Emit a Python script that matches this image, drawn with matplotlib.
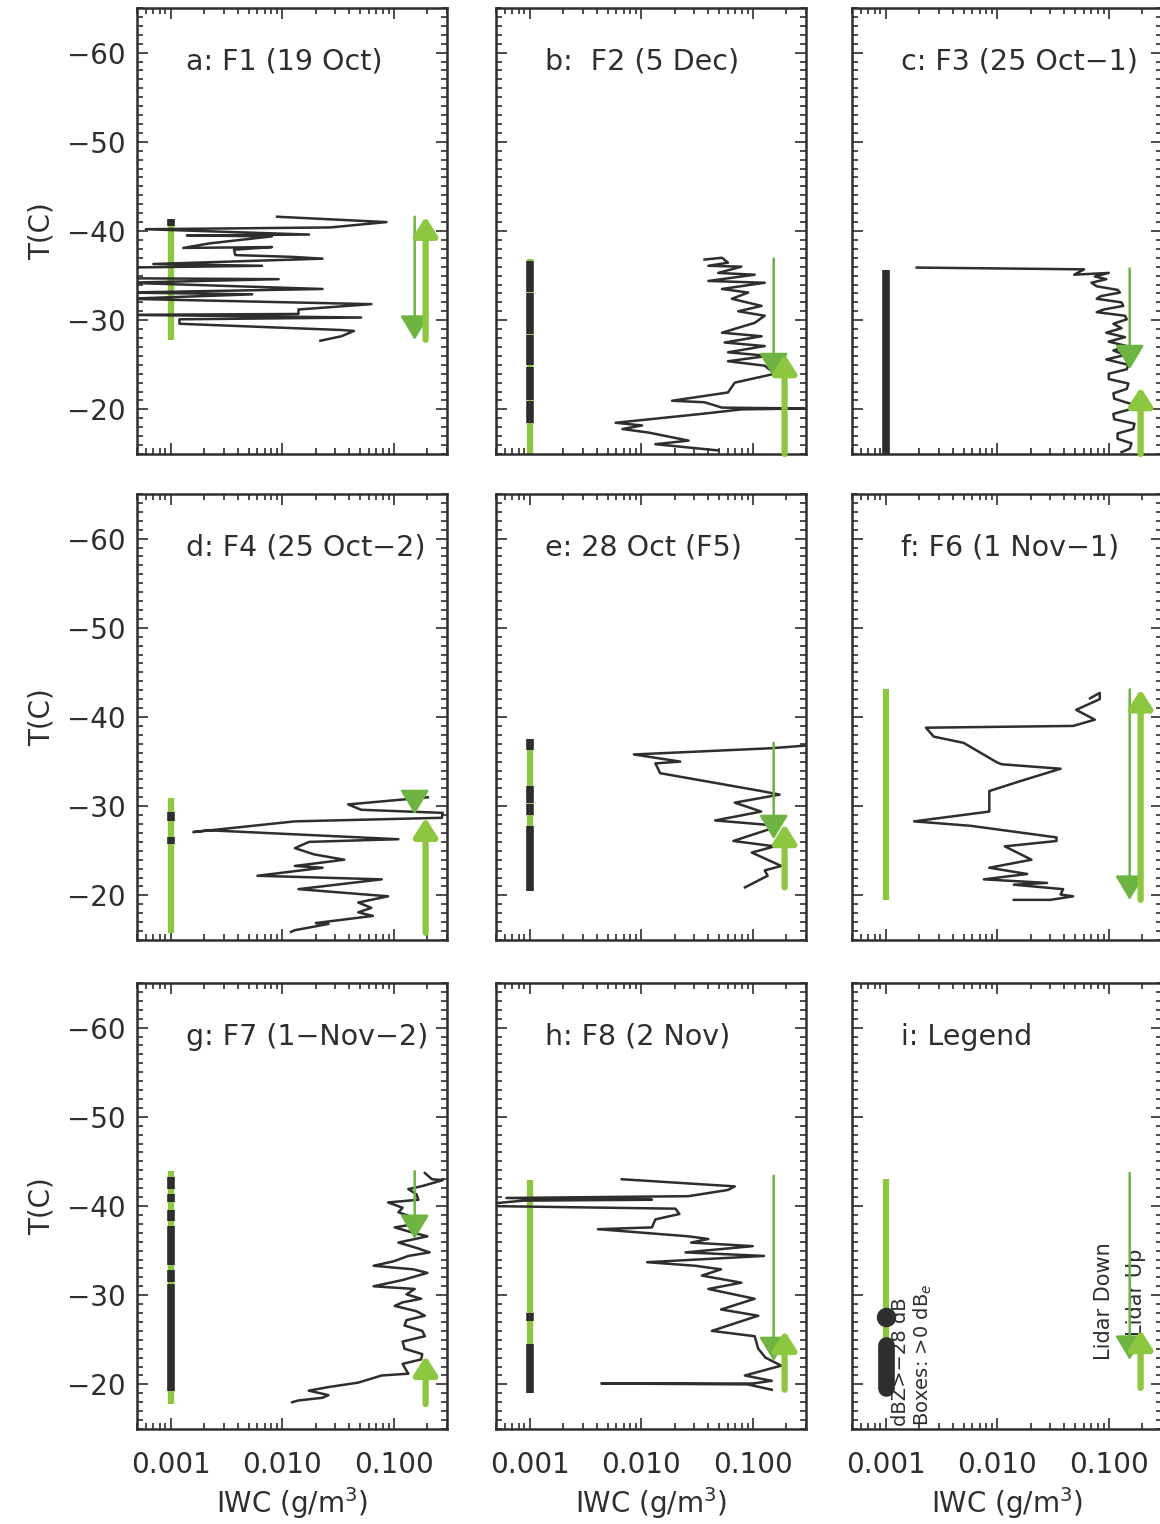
""" Ice water content profiles against temperature for eight flights """

import matplotlib
import matplotlib.pyplot as plt
from matplotlib.ticker import FixedLocator, LogLocator, MultipleLocator, NullFormatter

matplotlib.use('Agg')
plt.rcParams['font.family'] = ['DejaVu Sans']

TITLES = ['a: F1 (19 Oct)', 'b:  F2 (5 Dec)', 'c: F3 (25 Oct\u22121)',
          'd: F4 (25 Oct\u22122)', 'e: 28 Oct (F5)', 'f: F6 (1 Nov\u22121)',
          'g: F7 (1\u2212Nov\u22122)', 'h: F8 (2 Nov)', 'i: Legend']

# (T [C], IWC [g/m3]) along each flight profile
PROFILE_A = [(-41.6, 0.009), (-41.0, 0.086), (-40.4, 0.027), (-40.2, 0.0006), (-39.6, 0.0174),
             (-39.5, 0.0014), (-39.4, 0.0081), (-38.6, 0.0022), (-38.1, 0.0013), (-38.2, 0.0081),
             (-37.9, 0.0037), (-37.3, 0.0038), (-37.1, 0.0123), (-36.9, 0.023), (-36.3, 0.0007),
             (-36.1, 0.0066), (-35.9, 0.0004), (-34.7, 0.0004), (-34.6, 0.0093), (-34.2, 0.0004),
             (-33.5, 0.023), (-33.1, 0.0004), (-32.9, 0.0054), (-32.4, 0.0004), (-31.8, 0.063),
             (-31.2, 0.014), (-30.7, 0.014), (-30.6, 0.0004), (-30.3, 0.051), (-30.1, 0.0012),
             (-29.6, 0.0012), (-28.9, 0.034), (-28.8, 0.044), (-28.2, 0.034), (-27.7, 0.022)]
PROFILE_B = [(-36.8, 0.037), (-37.0, 0.053), (-36.45, 0.060), (-36.1, 0.040), (-36.0, 0.079),
             (-35.3, 0.049), (-35.1, 0.104), (-34.4, 0.040), (-34.2, 0.128), (-33.5, 0.053),
             (-33.1, 0.091), (-32.4, 0.065), (-31.6, 0.12), (-31.0, 0.074), (-30.5, 0.128),
             (-29.7, 0.104), (-28.6, 0.053), (-28.2, 0.12), (-27.5, 0.056), (-27.1, 0.128),
             (-26.4, 0.060), (-26.0, 0.137), (-25.4, 0.060), (-24.9, 0.128), (-24.0, 0.158),
             (-23.0, 0.069), (-21.9, 0.060), (-20.97, 0.0189), (-20.8, 0.037), (-20.2, 0.053),
             (-20.1, 0.29), (-20.0, 0.079), (-19.5, 0.035), (-18.5, 0.0059), (-18.2, 0.0102),
             (-17.8, 0.0068), (-17.4, 0.0117), (-16.5, 0.0266), (-16.1, 0.0134), (-15.4, 0.049)]
PROFILE_C = [(-35.9, 0.0019), (-35.7, 0.060), (-35.1, 0.049), (-35.3, 0.10), (-34.9, 0.075),
             (-34.6, 0.095), (-34.2, 0.07), (-33.8, 0.078), (-33.4, 0.12), (-33.1, 0.126),
             (-32.7, 0.085), (-32.4, 0.078), (-32.0, 0.13), (-31.6, 0.135), (-31.2, 0.09),
             (-30.9, 0.078), (-30.5, 0.14), (-30.1, 0.145), (-29.6, 0.11), (-29.1, 0.13),
             (-28.6, 0.095), (-28.1, 0.14), (-27.6, 0.10), (-27.1, 0.145), (-26.6, 0.11),
             (-26.1, 0.14), (-25.6, 0.095), (-25.0, 0.15), (-24.5, 0.145), (-24.0, 0.10),
             (-23.4, 0.10), (-22.9, 0.15), (-22.3, 0.145), (-21.8, 0.11), (-21.2, 0.112),
             (-20.6, 0.16), (-20.0, 0.154), (-19.5, 0.11), (-18.9, 0.112), (-18.4, 0.17),
             (-17.8, 0.166), (-17.3, 0.12), (-16.7, 0.12), (-16.2, 0.16), (-15.6, 0.154),
             (-15.2, 0.13)]
PROFILE_D = [(-31.0, 0.202), (-30.2, 0.039), (-29.6, 0.051), (-29.25, 0.275), (-28.7, 0.27),
             (-28.3, 0.013), (-27.1, 0.0016), (-27.3, 0.0022), (-26.3, 0.11), (-26.0, 0.0174),
             (-25.3, 0.013), (-24.6, 0.0193), (-24.0, 0.036), (-23.3, 0.013), (-23.1, 0.023),
             (-22.2, 0.006), (-21.8, 0.078), (-20.7, 0.014), (-19.9, 0.089), (-19.2, 0.048),
             (-18.6, 0.063), (-18.1, 0.048), (-17.7, 0.065), (-16.9, 0.020), (-16.8, 0.026),
             (-16.1, 0.013), (-15.9, 0.012)]
PROFILE_E = [(-36.8, 0.30), (-36.5, 0.147), (-35.8, 0.0086), (-35.0, 0.0224), (-34.8, 0.0134),
             (-33.7, 0.0148), (-31.7, 0.119), (-31.3, 0.174), (-30.4, 0.069), (-29.4, 0.119),
             (-28.4, 0.046), (-27.8, 0.174), (-26.1, 0.067), (-25.5, 0.157), (-24.8, 0.098),
             (-23.3, 0.18), (-22.8, 0.128), (-22.2, 0.136), (-20.9, 0.085)]
PROFILE_F = [(-42.1, 0.068), (-42.7, 0.083), (-42.0, 0.083), (-40.8, 0.051), (-39.7, 0.075),
             (-39.0, 0.048), (-38.8, 0.0023), (-37.8, 0.0027), (-37.1, 0.005), (-34.9, 0.010),
             (-34.7, 0.011), (-34.2, 0.037), (-32.8, 0.016), (-31.7, 0.0085), (-29.4, 0.0085),
             (-28.3, 0.0018), (-27.8, 0.0058), (-26.5, 0.034), (-26.1, 0.034), (-25.5, 0.0117),
             (-24.0, 0.0203), (-23.1, 0.0085), (-22.4, 0.0186), (-21.8, 0.0076), (-21.4, 0.028),
             (-21.2, 0.0141), (-20.7, 0.039), (-20.1, 0.037), (-19.9, 0.048), (-19.5, 0.030),
             (-19.5, 0.0141)]
PROFILE_G = [(-43.7, 0.19), (-43.0, 0.22), (-42.9, 0.275), (-42.2, 0.176), (-41.9, 0.135),
             (-41.3, 0.16), (-40.7, 0.166), (-40.4, 0.089), (-39.8, 0.12), (-39.3, 0.11),
             (-38.7, 0.15), (-38.1, 0.176), (-37.6, 0.102), (-37.1, 0.14), (-36.6, 0.2),
             (-35.9, 0.11), (-35.3, 0.16), (-34.8, 0.21), (-34.4, 0.135), (-33.8, 0.1),
             (-33.3, 0.066), (-32.9, 0.15), (-32.5, 0.2), (-31.7, 0.12), (-31.0, 0.066),
             (-30.7, 0.154), (-30.1, 0.13), (-29.6, 0.176), (-29.2, 0.12), (-28.8, 0.102),
             (-28.2, 0.16), (-27.7, 0.19), (-27.2, 0.13), (-26.6, 0.125), (-26.0, 0.18),
             (-25.4, 0.19), (-24.8, 0.12), (-24.0, 0.125), (-23.4, 0.18), (-22.8, 0.176),
             (-22.3, 0.12), (-21.9, 0.125), (-21.2, 0.135), (-21.0, 0.078), (-20.2, 0.048),
             (-19.7, 0.026), (-19.3, 0.0173), (-18.8, 0.026), (-18.5, 0.023), (-18.2, 0.014),
             (-18.0, 0.0123)]
PROFILE_H = [(-43.0, 0.0067), (-42.2, 0.069), (-41.8, 0.06), (-41.1, 0.0265), (-40.9, 0.00062),
             (-40.7, 0.0125), (-40.6, 0.00087), (-40.2, 0.0004), (-40.0, 0.0004), (-39.7, 0.0203),
             (-39.1, 0.022), (-38.5, 0.0134), (-37.6, 0.0125), (-37.4, 0.0041), (-36.6, 0.0266),
             (-36.3, 0.04), (-35.9, 0.028), (-35.5, 0.1), (-34.8, 0.025), (-34.4, 0.126),
             (-33.7, 0.0113), (-33.3, 0.0305), (-32.9, 0.052), (-32.2, 0.035), (-31.4, 0.079),
             (-30.7, 0.04), (-29.6, 0.104), (-28.4, 0.052), (-27.7, 0.112), (-26.0, 0.043),
             (-25.4, 0.104), (-24.0, 0.112), (-23.0, 0.13), (-22.1, 0.18), (-21.0, 0.085),
             (-20.4, 0.148), (-20.1, 0.10), (-20.1, 0.0044), (-20.0, 0.09), (-19.4, 0.148)]
PROFILES = [PROFILE_A, PROFILE_B, PROFILE_C, PROFILE_D, PROFILE_E,
            PROFILE_F, PROFILE_G, PROFILE_H, []]

# radar bar at IWC = 0.001: green extent and black (dBZ > 0) segments, T in C
BAR_RANGE = [(-41.3, -27.8), (-36.9, -15.0), (-35.6, -15.0), (-30.9, -15.8), (-37.5, -20.5),
             (-43.1, -19.5), (-43.9, -17.8), (-42.9, -19.0), (-43.0, -18.7)]
BAR_BLACK = [[(-41.3, -40.6)],
             [(-36.6, -33.2), (-33.0, -28.5), (-28.3, -25.0), (-24.8, -21.1), (-20.9, -18.5)],
             [(-35.6, -15.0)],
             [(-29.4, -28.3), (-26.6, -25.8)],
             [(-37.5, -36.3), (-32.3, -30.4), (-30.2, -29.0), (-27.8, -20.5)],
             [],
             [(-43.2, -41.9), (-41.3, -40.45), (-39.55, -38.3), (-37.8, -33.4),
              (-32.8, -31.5), (-31.2, -19.3)],
             [(-28.0, -27.1), (-24.5, -19.0)],
             []]

# lidar arrows: (start T, end T) where the head sits at the end
LIDAR_DOWN = [(-41.6, -27.8), (-36.9, -23.6), (-35.8, -24.5), (-30.9, -29.1), (-37.1, -26.3),
              (-43.1, -19.5), (-43.9, -36.3), (-43.4, -22.6), (-43.7, -22.75)]
LIDAR_UP = [(-27.8, -41.6), (-15.0, -26.2), (-15.0, -22.5), (-15.8, -28.7), (-20.9, -28.0),
            (-19.5, -43.1), (-17.8, -23.2), (-19.4, -26.0), (-19.6, -26.1)]

LEGEND_DOT_T = -27.6
LEGEND_BOX = (-24.4, -19.6)

BAR_X = 0.001
DOWN_X = 0.154
UP_X = 0.193
GREEN = '#8dc63f'
GREEN_DARK = '#6db443'
INK = '#2e2e2e'

fig = plt.figure(figsize=(11.6, 15.24), dpi=100)
LEFTS = [137, 496, 852]
TOPS = [8, 494, 983]
W_PX, H_PX = 310, 446


def arrow(ax, x, t0, t1, color, lw, head):
    """ Draws one lidar arrow from t0 to t1 """
    ax.annotate('', xy=(x, t1), xytext=(x, t0), zorder=5,
                arrowprops=dict(arrowstyle=head, mutation_scale=20, color=color,
                                lw=lw, shrinkA=0, shrinkB=0))


for i in range(9):
    row, col = divmod(i, 3)
    ax = fig.add_axes([LEFTS[col] / 1160, 1 - (TOPS[row] + H_PX) / 1524,
                       W_PX / 1160, H_PX / 1524])
    ax.set_xscale('log')
    ax.set_xlim(0.0005, 0.3)
    ax.set_ylim(-15, -65)

    ax.xaxis.set_major_locator(FixedLocator([0.001, 0.01, 0.1]))
    ax.xaxis.set_minor_locator(LogLocator(base=10, subs=range(2, 10)))
    ax.xaxis.set_minor_formatter(NullFormatter())
    ax.set_xticklabels(['0.001', '0.010', '0.100'])
    ax.yaxis.set_major_locator(MultipleLocator(10))
    ax.yaxis.set_minor_locator(MultipleLocator(1))
    ax.tick_params(which='both', direction='in', top=True, right=True,
                   width=1.2, color=INK, labelsize=20, labelcolor=INK)
    ax.tick_params(which='major', length=8)
    ax.tick_params(which='minor', length=4)
    ax.tick_params(axis='y', pad=8)
    ax.tick_params(axis='x', pad=16)
    ax.tick_params(labelleft=(col == 0), labelbottom=(row == 2))
    for spine in ax.spines.values():
        spine.set_linewidth(1.8)
        spine.set_color(INK)

    if col == 0:
        ax.set_ylabel('T(C)', fontsize=20, color=INK, labelpad=8)
    if row == 2:
        ax.set_xlabel('IWC (g/m$^3$)', fontsize=20, color=INK, labelpad=4)

    ax.text(0.158, 0.879, TITLES[i], transform=ax.transAxes, fontsize=20.5,
            color=INK, ha='left', va='center')

    # radar bar
    ax.plot([BAR_X, BAR_X], BAR_RANGE[i], color=GREEN, lw=4.5,
            solid_capstyle='butt', zorder=2)
    for t0, t1 in BAR_BLACK[i]:
        ax.plot([BAR_X, BAR_X], [t0, t1], color=INK, lw=5.5,
                solid_capstyle='butt', zorder=3)

    # IWC profile
    if PROFILES[i]:
        temps = [p[0] for p in PROFILES[i]]
        iwc = [p[1] for p in PROFILES[i]]
        ax.plot(iwc, temps, color=INK, lw=1.8, zorder=4)

    arrow(ax, DOWN_X, *LIDAR_DOWN[i], GREEN_DARK, 1.8,
          '-|>,head_length=0.75,head_width=0.45')
    arrow(ax, UP_X, *LIDAR_UP[i], GREEN, 4.5,
          '-|>,head_length=0.55,head_width=0.35')

# legend panel extras
ax.plot([BAR_X], [LEGEND_DOT_T], 'o', color=INK, ms=13, zorder=4)
ax.plot([BAR_X, BAR_X], LEGEND_BOX, color=INK, lw=12, solid_capstyle='round', zorder=4)
ax.text(0.00137, -15.3, 'dBZ>\u221228 dB', rotation=90, fontsize=14, color=INK,
        ha='center', va='bottom')
ax.text(0.00215, -15.3, 'Boxes: >0 dB$_e$', rotation=90, fontsize=14, color=INK,
        ha='center', va='bottom')
ax.text(0.090, -22.7, 'Lidar Down', rotation=90, fontsize=15, color=INK,
        ha='center', va='bottom')
ax.text(0.176, -25.4, 'Lidar Up', rotation=90, fontsize=15, color=INK,
        ha='center', va='bottom')

fig.savefig('out.png', dpi=100, facecolor='white')
